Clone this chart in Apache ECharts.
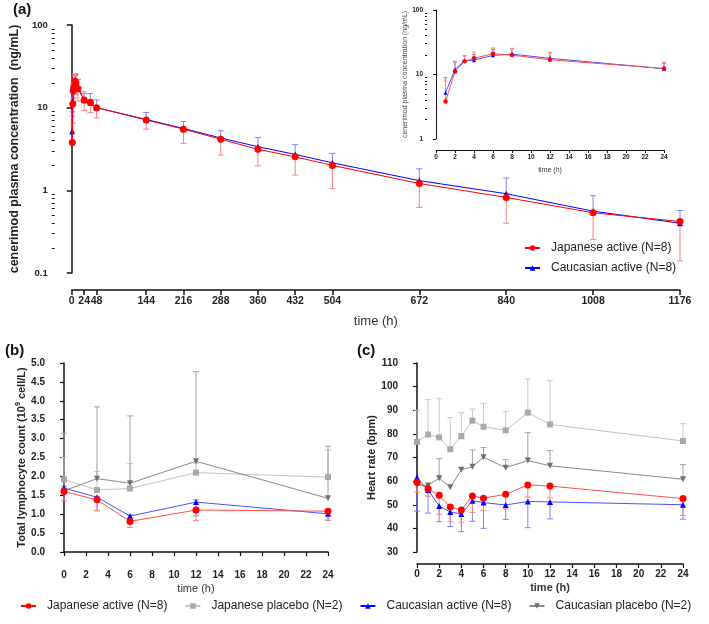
<!DOCTYPE html>
<html><head><meta charset="utf-8">
<script src="https://cdn.jsdelivr.net/npm/echarts@6/dist/echarts.min.js"></script>
<style>html,body{margin:0;padding:0;background:#fff}#c{width:709px;height:624px}</style>
</head><body><div id="c"></div>
<script>
// ---------- Panel (a): plasma concentration ----------
const pkTimes = [1,2,3,4,6,8,12,24,36,48,144,216,288,360,432,504,672,840,1008,1176];
const pkJpn = [3.8,11.1,16.0,17.8,21.0,20.0,16.9,12.4,11.6,10.0,7.1,5.5,4.15,3.13,2.54,2.0,1.21,0.82,0.535,0.42];
const pkJpnUpper = [7.9,15.6,19.3,22.3,25.8,25.5,21.8,15.6,null,null,null,null,null,null,null,null,null,null,null,null];
const pkJpnLower = [null,6.5,12.7,13.3,16.2,14.5,12.0,9.2,8.7,7.5,5.5,3.7,2.67,1.98,1.53,1.05,0.62,0.40,0.255,0.14];
const pkCau = [5.2,12.0,16.2,16.7,19.8,20.7,17.8,12.3,11.5,10.0,7.2,5.6,4.3,3.37,2.72,2.15,1.31,0.91,0.56,0.40];
const pkCauUpper = [8.9,16.0,19.5,20.5,24.5,25.0,22.0,14.8,14.8,12.4,8.76,6.8,5.25,4.35,3.57,2.8,1.82,1.41,0.86,0.57];
const pkXTicks = [0,24,48,144,216,288,360,432,504,672,840,1008,1176];
const insetCount = 8; // points up to 24 h shown in the inset

// ---------- Panel (b): lymphocyte count ----------
const lymTimes = [0,3,6,12,24];
const lymJpnAct = [1.60,1.38,0.81,1.11,1.08];
const lymJpnActLower = [1.36,1.10,0.65,0.83,0.84];
const lymJpnPla = [1.92,1.64,1.68,2.10,1.98];
const lymJpnPlaUpper = [2.50,2.13,2.34,2.35,2.70];
const lymCauAct = [1.69,1.45,0.95,1.32,1.01];
const lymCauActLower = [1.56,1.09,0.88,0.96,0.84];
const lymCauActUpper = [1.74,1.47,0.98,1.38,1.04];
const lymCauPla = [1.62,1.94,1.82,2.40,1.42];
const lymCauPlaUpper = [3.14,3.84,3.60,4.77,2.80];

// ---------- Panel (c): heart rate ----------
const hrTimes = [0,1,2,3,4,5,6,8,10,12,24];
const hrJpnAct = [59.5,56.8,54.0,49.0,47.8,53.7,52.8,54.4,58.4,57.9,52.6];
const hrJpnActLower = [55.3,53.6,46.0,42.8,42.6,46.8,47.6,48.2,53.3,52.9,45.5];
const hrJpnPla = [76.6,79.7,78.5,73.5,79.0,85.6,83.0,81.5,89.0,84.0,77.0];
const hrJpnPlaUpper = [90.0,94.5,94.9,86.9,89.0,90.5,92.9,89.4,103.2,102.5,84.3];
const hrCauAct = [61.5,56.2,49.5,46.9,46.1,51.7,50.9,49.9,51.4,51.2,50.0];
const hrCauActLower = [47.3,46.5,42.8,40.8,38.6,43.0,40.0,43.8,40.3,44.0,43.9];
const hrCauPla = [58.2,58.2,61.2,57.4,64.8,66.1,70.1,65.7,68.7,66.5,60.8];
const hrCauPlaUpper = [null,null,69.5,null,null,73.2,74.2,69.1,80.5,72.9,67.0];

const N_JA = 'Japanese active (N=8)', N_JP = 'Japanese placebo (N=2)',
      N_CA = 'Caucasian active (N=8)', N_CP = 'Caucasian placebo (N=2)';

const FONT = 'Liberation Sans, Arial, Helvetica, sans-serif';
const minorLog = (decs) => { const r=[]; decs.forEach(d=>{for(let k=2;k<=9;k++) r.push(+(d*k).toPrecision(3));}); return r; };

function zip(xs, ys){ return xs.map((x,i)=>[x,ys[i]]); }

function errSeries(id, xs, means, bounds, color, xi, yi, cap){
  const data = [];
  xs.forEach((x,i)=>{ if(bounds[i]!=null) data.push([x, means[i], bounds[i]]); });
  const hw = cap || 3;
  return {
    type:'custom', name:id, xAxisIndex:xi, yAxisIndex:yi, silent:true, z:2,
    encode:{x:0, y:[1,2]},
    data,
    renderItem:(params, api)=>{
      const p0 = api.coord([api.value(0), api.value(1)]);
      const p1 = api.coord([api.value(0), api.value(2)]);
      const st = {stroke:color, lineWidth:1};
      return {type:'group', children:[
        {type:'line', shape:{x1:p0[0],y1:p0[1],x2:p1[0],y2:p1[1]}, style:st},
        {type:'line', shape:{x1:p1[0]-hw,y1:p1[1],x2:p1[0]+hw,y2:p1[1]}, style:st}
      ]};
    }
  };
}

function lineSeries(name, xs, ys, color, lineColor, symbol, size, xi, yi, rotate, z){
  return {
    type:'line', name, xAxisIndex:xi, yAxisIndex:yi, data:zip(xs,ys),
    symbol, symbolSize:size, symbolRotate:rotate||0, showSymbol:true,
    itemStyle:{color}, lineStyle:{color:lineColor, width:1}, z:z||3,
    emphasis:{disabled:true}, animation:false
  };
}

const RED='#ff0000', RED_L='#ff4d4d', RED_E='#ff8080';
const BLUE='#0000ff', BLUE_L='#4d4dff', BLUE_E='#8080ff';
const LG='#a8a8a8', LG_L='#c4c4c4', LG_E='#c8c8c8';
const DG='#6e6e6e', DG_L='#8a8a8a', DG_E='#a0a0a0';

const axisLineStyle = {show:true, lineStyle:{color:'#111', width:1.5}};

const xTimes24 = (gi, offset, labelSize, bold, nameBold, nameSize, nameGap) => ({
  type:'value', gridIndex:gi, min:0, max:24, interval:2, offset,
  axisLine:axisLineStyle, axisTick:{show:true, length:4, lineStyle:{color:'#111', width:1.2}},
  axisLabel:{fontSize:labelSize, fontWeight:bold?'bold':'normal', color:'#222', margin:5, fontFamily:FONT},
  splitLine:{show:false},
  name:'time (h)', nameLocation:'middle', nameGap,
  nameTextStyle:{fontSize:nameSize, fontWeight:nameBold?'bold':'normal', color:'#333', fontFamily:FONT}
});

const option = {
  animation:false,
  backgroundColor:'#fff',
  textStyle:{fontFamily:FONT},
  grid:[
    {left:62, top:25, width:618, height:248},
    {left:436, top:10, width:228, height:129},
    {left:64, top:363, width:264, height:189},
    {left:417, top:363, width:266, height:189}
  ],
  xAxis:[
    {type:'value', gridIndex:0, min:0, max:1176, offset:17,
     axisLine:axisLineStyle,
     axisTick:{show:true, length:5, customValues:pkXTicks, lineStyle:{color:'#111', width:1.5}},
     axisLabel:{customValues:pkXTicks, fontSize:10.5, fontWeight:'bold', color:'#222', margin:6, fontFamily:FONT,
                formatter:v=>String(v)},
     splitLine:{show:false},
     name:'time (h)', nameLocation:'middle', nameGap:25,
     nameTextStyle:{fontSize:13, color:'#333', fontFamily:FONT}},
    Object.assign(xTimes24(1, 11, 6.5, true, false, 7, 17), {axisTick:{show:true,length:3,lineStyle:{color:'#111'}}, axisLine:{show:true,lineStyle:{color:'#111',width:1}}, axisLabel:{fontSize:6.5,fontWeight:'bold',color:'#222',margin:4,fontFamily:FONT}}),
    xTimes24(2, 13, 10, true, false, 11, 18),
    xTimes24(3, 12, 10, true, true, 11, 18)
  ],
  yAxis:[
    {type:'log', logBase:10, gridIndex:0, min:0.1, max:100, offset:17, position:'left',
     axisLine:axisLineStyle,
     axisTick:{show:true, length:5, lineStyle:{color:'#111', width:1.5}},
     axisLabel:{fontSize:9.5, fontWeight:'bold', color:'#222', margin:7, fontFamily:FONT,
                formatter:v=>String(parseFloat((+v).toPrecision(3)))},
     splitLine:{show:false},
     name:'cenerimod plasma concentration  (ng/mL)', nameLocation:'middle', nameGap:30,
     nameTextStyle:{fontSize:12.5, fontWeight:'bold', color:'#222', fontFamily:FONT}},
    {type:'log', logBase:10, gridIndex:0, min:0.1, max:100, offset:17, position:'left',
     axisLine:{show:false}, axisLabel:{show:false}, splitLine:{show:false},
     axisTick:{show:true, length:3, customValues:minorLog([0.1,1,10]), lineStyle:{color:'#111', width:1}}},
    {type:'log', logBase:10, gridIndex:1, min:1, max:100, offset:9, position:'left',
     axisLine:{show:true, lineStyle:{color:'#111', width:1}},
     axisTick:{show:true, length:3, lineStyle:{color:'#111'}},
     axisLabel:{fontSize:6.5, fontWeight:'bold', color:'#222', margin:4, fontFamily:FONT,
                formatter:v=>String(parseFloat((+v).toPrecision(3)))},
     splitLine:{show:false},
     name:'cenerimod plasma concentration (ng/mL)', nameLocation:'middle', nameGap:12,
     nameTextStyle:{fontSize:7, color:'#444', fontFamily:FONT}},
    {type:'log', logBase:10, gridIndex:1, min:1, max:100, offset:9, position:'left',
     axisLine:{show:false}, axisLabel:{show:false}, splitLine:{show:false},
     axisTick:{show:true, length:2, customValues:minorLog([1,10]), lineStyle:{color:'#111', width:1}}},
    {type:'value', gridIndex:2, min:0, max:5, interval:0.5, offset:14, position:'left',
     axisLine:axisLineStyle,
     axisTick:{show:true, length:4, lineStyle:{color:'#111', width:1.2}},
     axisLabel:{fontSize:10, fontWeight:'bold', color:'#222', margin:5, fontFamily:FONT, formatter:v=>(+v).toFixed(1)},
     splitLine:{show:false},
     name:'Total lymphocyte count (10{sup|9} cell/L)', nameLocation:'middle', nameGap:22,
     nameTextStyle:{fontSize:11, fontWeight:'bold', color:'#222', fontFamily:FONT,
       rich:{sup:{fontSize:7, fontWeight:'bold', color:'#222', verticalAlign:'top', padding:[0,0,6,0], fontFamily:FONT}}}},
    {type:'value', gridIndex:3, min:30, max:110, interval:10, offset:14, position:'left',
     axisLine:axisLineStyle,
     axisTick:{show:true, length:4, lineStyle:{color:'#111', width:1.2}},
     axisLabel:{fontSize:10, fontWeight:'bold', color:'#222', margin:5, fontFamily:FONT},
     splitLine:{show:false},
     name:'Heart rate (bpm)', nameLocation:'middle', nameGap:22,
     nameTextStyle:{fontSize:11, fontWeight:'bold', color:'#222', fontFamily:FONT}}
  ],
  legend:[
    {data:[N_JA, N_CA], orient:'vertical', left:524, top:242, itemGap:8, padding:0,
     itemWidth:15, itemHeight:7, selectedMode:false,
     textStyle:{fontSize:12, color:'#222', padding:[0,0,0,6], fontFamily:FONT}},
    {data:[N_JA, N_JP, N_CA, N_CP], orient:'horizontal', left:20, top:600, width:705, itemGap:17, padding:0,
     itemWidth:15, itemHeight:7, selectedMode:false,
     textStyle:{fontSize:12, color:'#222', padding:[0,0,0,6], fontFamily:FONT}}
  ],
  graphic:[
    {type:'text', left:13, top:2, style:{text:'(a)', fontSize:15, fontWeight:'bold', fill:'#111', fontFamily:FONT}},
    {type:'text', left:5, top:343, style:{text:'(b)', fontSize:15, fontWeight:'bold', fill:'#111', fontFamily:FONT}},
    {type:'text', left:357, top:343, style:{text:'(c)', fontSize:15, fontWeight:'bold', fill:'#111', fontFamily:FONT}}
  ],
  series:[
    // (a) main
    errSeries('e1', pkTimes, pkCau, pkCauUpper, BLUE_E, 0, 0, 3),
    lineSeries(N_CA, pkTimes, pkCau, BLUE, BLUE, 'triangle', 6, 0, 0, 0, 3),
    errSeries('e2', pkTimes, pkJpn, pkJpnLower, RED_E, 0, 0, 3),
    errSeries('e3', pkTimes, pkJpn, pkJpnUpper, RED_E, 0, 0, 3),
    lineSeries(N_JA, pkTimes, pkJpn, RED, RED, 'circle', 7, 0, 0, 0, 4),
    // (a) inset
    errSeries('e4', pkTimes.slice(0,insetCount), pkCau.slice(0,insetCount), pkCauUpper.slice(0,insetCount), BLUE_E, 1, 2, 2),
    lineSeries(N_CA, pkTimes.slice(0,insetCount), pkCau.slice(0,insetCount), BLUE, BLUE_L, 'triangle', 4, 1, 2, 0, 3),
    errSeries('e5', pkTimes.slice(0,insetCount), pkJpn.slice(0,insetCount), pkJpnUpper.slice(0,insetCount), RED_E, 1, 2, 2),
    lineSeries(N_JA, pkTimes.slice(0,insetCount), pkJpn.slice(0,insetCount), RED, RED_L, 'circle', 4.5, 1, 2, 0, 4),
    // (b)
    errSeries('e6', lymTimes, lymJpnPla, lymJpnPlaUpper, LG_E, 2, 4, 3),
    lineSeries(N_JP, lymTimes, lymJpnPla, LG, LG_L, 'rect', 6, 2, 4, 0, 3),
    errSeries('e7', lymTimes, lymCauPla, lymCauPlaUpper, DG_E, 2, 4, 3),
    lineSeries(N_CP, lymTimes, lymCauPla, DG, DG_L, 'triangle', 6, 2, 4, 180, 3),
    errSeries('e8', lymTimes, lymCauAct, lymCauActLower, BLUE_E, 2, 4, 3),
    errSeries('e9', lymTimes, lymCauAct, lymCauActUpper, BLUE_E, 2, 4, 3),
    lineSeries(N_CA, lymTimes, lymCauAct, BLUE, BLUE_L, 'triangle', 6, 2, 4, 0, 3),
    errSeries('e10', lymTimes, lymJpnAct, lymJpnActLower, RED_E, 2, 4, 3),
    lineSeries(N_JA, lymTimes, lymJpnAct, RED, RED_L, 'circle', 7, 2, 4, 0, 4),
    // (c)
    errSeries('e11', hrTimes, hrJpnPla, hrJpnPlaUpper, LG_E, 3, 5, 3),
    lineSeries(N_JP, hrTimes, hrJpnPla, LG, LG_L, 'rect', 6, 3, 5, 0, 3),
    errSeries('e12', hrTimes, hrCauPla, hrCauPlaUpper, DG_E, 3, 5, 3),
    lineSeries(N_CP, hrTimes, hrCauPla, DG, DG_L, 'triangle', 6, 3, 5, 180, 3),
    errSeries('e13', hrTimes, hrCauAct, hrCauActLower, BLUE_E, 3, 5, 3),
    lineSeries(N_CA, hrTimes, hrCauAct, BLUE, BLUE_L, 'triangle', 6, 3, 5, 0, 3),
    errSeries('e14', hrTimes, hrJpnAct, hrJpnActLower, RED_E, 3, 5, 3),
    lineSeries(N_JA, hrTimes, hrJpnAct, RED, RED_L, 'circle', 7, 3, 5, 0, 4)
  ]
};

const chart = echarts.init(document.getElementById('c'), null, {renderer:'canvas'});
chart.setOption(option);
</script>
</body></html>
